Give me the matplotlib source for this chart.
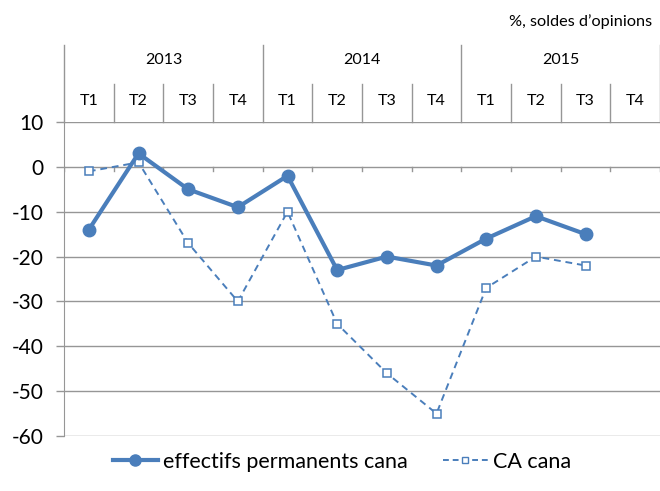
import matplotlib
matplotlib.use("Agg")
import matplotlib.pyplot as plt
from matplotlib.lines import Line2D

plt.rcParams['font.family'] = ['Lato', 'DejaVu Sans']

years = ["2013", "2014", "2015"]
quarters = ["T1", "T2", "T3", "T4"] * 3
effectifs = [-14, 3, -5, -9, -2, -23, -20, -22, -16, -11, -15]
ca = [-1, 1, -17, -30, -10, -35, -46, -55, -27, -20, -22]
yticks = [10, 0, -10, -20, -30, -40, -50, -60]

blue = "#4A7EBB"
grid = "#969696"

fig = plt.figure(figsize=(6.6, 4.91), dpi=100)
ax = fig.add_axes([64/660, 1-436/491, 596/660, 314/491])

x = [i + 0.5 for i in range(len(effectifs))]
xc = [i + 0.5 for i in range(len(ca))]
ax.plot(x, effectifs, color=blue, lw=3, marker='o', ms=9, mfc=blue, mec=blue,
        label="effectifs permanents cana", zorder=4, solid_joinstyle='round')
ax.plot(xc, ca, color=blue, lw=1.4, ls=(0, (3.5, 2.5)), marker='s', ms=5.5,
        mfc='white', mec=blue, mew=1.1, label="CA cana", zorder=3)

ax.set_xlim(0, 12)
ax.set_ylim(-60, 10)
ax.set_yticks(yticks)
ax.set_yticklabels([str(v) for v in yticks], fontsize=15)
for y in yticks:
    ax.axhline(y, color=grid, lw=1, zorder=1)
ax.set_xticks([])
for s in ['top', 'right', 'bottom']:
    ax.spines[s].set_visible(False)
ax.spines['left'].set_color(grid)
ax.tick_params(axis='y', length=6, color=grid, width=1, pad=9)

# x axis ticks at zero line
trans = ax.get_xaxis_transform()
for i in range(13):
    ax.plot([i, i], [0, -0.9], color=grid, lw=1, zorder=1)

# header table
yr_top = 1 + (122-45)/314
q_top = 1 + (122-84)/314
for i in range(13):
    top = yr_top if i % 4 == 0 else q_top
    ax.plot([i, i], [1, top], color=grid, lw=1, transform=trans, clip_on=False)
for k, yname in enumerate(years):
    ax.text(4*k + 2, 1 + (122-60)/314, yname, transform=trans, ha='center',
            va='center', fontsize=11.5)
for i, q in enumerate(quarters):
    ax.text(i + 0.5, 1 + (122-101)/314, q, transform=trans, ha='center',
            va='center', fontsize=11.5)

fig.text(652/660, 1-22/491, "%, soldes d\u2019opinions", ha='right', va='center',
         fontsize=11.7)

handles = [Line2D([], [], color=blue, lw=3, marker='o', ms=8),
           Line2D([], [], color=blue, lw=1.4, ls=(0, (3, 2)), marker='s', ms=4.5,
                  mfc='white', mec=blue)]
fig.legend(handles, ["effectifs permanents cana", "CA cana"], loc='center',
           bbox_to_anchor=(342/660, 1-462/491), ncol=2, frameon=False, fontsize=15.5,
           handlelength=2.1, handletextpad=0.25, columnspacing=1.6)

fig.savefig("out.png", dpi=100)
